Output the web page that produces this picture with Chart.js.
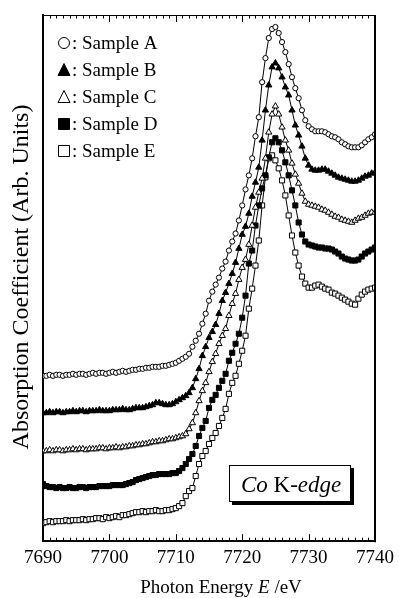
<!DOCTYPE html>
<html>
<head>
<meta charset="utf-8">
<script src="https://cdn.jsdelivr.net/npm/chart.js@4.4.0/dist/chart.umd.min.js"></script>
<style>
html, body { margin: 0; padding: 0; background: #fff; }
</style>
</head>
<body>
<canvas id="mycanvas" width="399" height="598"></canvas>
<script>
// photon energy (eV), shared by all samples
let energy = [
	7690, 7690.5, 7691, 7691.5, 7692, 7692.5, 7693, 7693.5, 7694, 7694.5,
	7695, 7695.5, 7696, 7696.5, 7697, 7697.5, 7698, 7698.5, 7699, 7699.5,
	7700, 7700.5, 7701, 7701.5, 7702, 7702.5, 7703, 7703.5, 7704, 7704.5,
	7705, 7705.5, 7706, 7706.5, 7707, 7707.5, 7708, 7708.5, 7709, 7709.5,
	7710, 7710.5, 7711, 7711.5, 7712, 7712.5, 7713, 7713.5, 7714, 7714.5,
	7715, 7715.5, 7716, 7716.5, 7717, 7717.5, 7718, 7718.5, 7719, 7719.5,
	7720, 7720.5, 7721, 7721.5, 7722, 7722.5, 7723, 7723.5, 7724, 7724.5,
	7725, 7725.5, 7726, 7726.5, 7727, 7727.5, 7728, 7728.5, 7729, 7729.5,
	7730, 7730.5, 7731, 7731.5, 7732, 7732.5, 7733, 7733.5, 7734, 7734.5,
	7735, 7735.5, 7736, 7736.5, 7737, 7737.5, 7738, 7738.5, 7739, 7739.5,
	7740
];

// absorption (arb. units, curves already offset as in the figure)
let sampleA = [
	165, 165, 166, 165, 166, 166, 165, 166, 166, 167,
	166, 167, 167, 166, 167, 168, 167, 168, 168, 167,
	168, 169, 168, 169, 170, 169, 170, 171, 171, 172,
	172, 173, 173, 174, 174, 174, 175, 175, 176, 177,
	178, 180, 182, 184, 187, 194, 200, 207, 217, 227,
	240, 249, 256, 263, 272, 279, 290, 299, 307, 320,
	335, 351, 365, 382, 404, 423, 458, 482, 502, 511,
	513, 507, 498, 488, 476, 463, 452, 442, 430, 420,
	414, 411, 409, 409, 409, 408, 406, 404, 403, 401,
	398, 396, 394, 393, 393, 393, 395, 398, 401, 403,
	406
];
let sampleB = [
	128, 128, 129, 128, 129, 129, 128, 129, 129, 130,
	129, 130, 130, 129, 130, 130, 130, 131, 130, 130,
	130, 131, 131, 131, 132, 131, 131, 132, 133, 133,
	133, 134, 135, 136, 138, 138, 137, 136, 136, 137,
	139, 141, 143, 145, 148, 153, 162, 172, 185, 194,
	203, 209, 216, 227, 240, 248, 257, 267, 278, 292,
	306, 314, 327, 344, 358, 373, 400, 430, 455, 473,
	477, 472, 463, 453, 445, 430, 415, 405, 394, 382,
	375, 371, 370, 370, 371, 371, 369, 367, 365, 363,
	362, 361, 360, 359, 359, 360, 362, 364, 365, 367,
	368
];
let sampleC = [
	90, 90, 91, 90, 91, 91, 90, 91, 91, 92,
	91, 92, 92, 91, 92, 92, 92, 93, 93, 92,
	93, 93, 94, 93, 94, 94, 95, 95, 96, 96,
	97, 97, 98, 99, 99, 100, 100, 101, 102, 102,
	103, 104, 105, 107, 112, 118, 128, 140, 150, 158,
	169, 179, 187, 197, 205, 212, 225, 237, 247, 261,
	273, 281, 296, 315, 333, 348, 362, 382, 408, 426,
	434, 426, 413, 400, 390, 377, 366, 357, 347, 339,
	336, 335, 334, 333, 331, 330, 328, 326, 324, 323,
	321, 320, 319, 318, 320, 322, 323, 325, 327, 328,
	328
];
let sampleD = [
	57, 55, 54, 54, 53, 54, 53, 53, 54, 53,
	53, 54, 54, 53, 54, 54, 54, 55, 55, 55,
	55, 56, 56, 56, 56, 57, 58, 59, 61, 62,
	63, 64, 65, 66, 66, 67, 67, 67, 67, 68,
	68, 70, 73, 77, 82, 87, 95, 105, 113, 120,
	133, 141, 146, 153, 160, 167, 180, 188, 197, 207,
	223, 245, 277, 290, 315, 335, 352, 365, 383, 398,
	402, 398, 390, 378, 365, 350, 335, 318, 306, 299,
	296, 295, 294, 293, 293, 292, 292, 291, 289, 287,
	284, 282, 281, 280, 280, 281, 284, 287, 289, 291,
	293
];
let sampleE = [
	18, 19, 20, 19, 20, 20, 20, 21, 20, 21,
	21, 21, 22, 21, 22, 22, 23, 23, 22, 24,
	23, 24, 25, 24, 26, 26, 27, 28, 29, 29,
	30, 29, 30, 30, 31, 30, 30, 31, 31, 32,
	33, 35, 38, 45, 50, 53, 65, 77, 85, 90,
	97, 103, 108, 115, 123, 132, 147, 158, 165, 177,
	190, 205, 232, 252, 275, 300, 335, 363, 382, 385,
	380, 372, 360, 345, 325, 305, 288, 275, 264, 257,
	253, 253, 255, 256, 254, 252, 251, 248, 247, 245,
	243, 241, 239, 237, 236, 242, 246, 249, 251, 252,
	253
];

let sampleNames = ["Sample A", "Sample B", "Sample C", "Sample D", "Sample E"];
let xTicks = [7690, 7700, 7710, 7720, 7730, 7740];

function pts(arr) {
	return arr.map(function (v, i) { return { x: energy[i], y: v }; });
}

let serif = "'Liberation Serif', 'Times New Roman', serif";

// marker look: style, fill, radius
let marks = [
	{ style: 'circle', fill: '#fff', r: 2.6 },
	{ style: 'triangle', fill: '#000', r: 3.6 },
	{ style: 'triangle', fill: '#fff', r: 3.6 },
	{ style: 'rect', fill: '#000', r: 3.6 },
	{ style: 'rect', fill: '#fff', r: 3.6 }
];
let series = [sampleA, sampleB, sampleC, sampleD, sampleE];

let datasets = series.map(function (s, i) {
	return {
		label: sampleNames[i],
		data: pts(s),
		borderColor: '#000',
		borderWidth: 1,
		backgroundColor: marks[i].fill,
		pointStyle: marks[i].style,
		pointRadius: marks[i].r,
		pointBorderWidth: 1,
		pointBorderColor: '#000',
		pointBackgroundColor: marks[i].fill,
		tension: 0,
		fill: false
	};
});

function drawMark(ctx, m, x, y, size) {
	ctx.save();
	ctx.fillStyle = m.fill;
	ctx.strokeStyle = '#000';
	ctx.lineWidth = 1;
	ctx.beginPath();
	if (m.style == 'circle') {
		ctx.arc(x, y, size / 2, 0, Math.PI * 2);
	} else if (m.style == 'triangle') {
		ctx.moveTo(x, y - size / 2 - 1);
		ctx.lineTo(x + size / 2 + 0.5, y + size / 2);
		ctx.lineTo(x - size / 2 - 0.5, y + size / 2);
		ctx.closePath();
	} else {
		ctx.rect(x - size / 2, y - size / 2, size, size);
	}
	ctx.fill();
	ctx.stroke();
	ctx.restore();
}

let decor = {
	id: 'decor',
	afterDraw: function (chart) {
		let ctx = chart.ctx;
		let a = chart.chartArea;
		let xs = chart.scales.x;
		ctx.save();
		ctx.strokeStyle = '#000';

		// top and right frame
		ctx.lineWidth = 1;
		ctx.beginPath();
		ctx.moveTo(a.left, a.top + 0.5);
		ctx.lineTo(a.right, a.top + 0.5);
		ctx.stroke();
		ctx.lineWidth = 2;
		ctx.beginPath();
		ctx.moveTo(a.right, a.top);
		ctx.lineTo(a.right, a.bottom + 1);
		ctx.stroke();

		// inward ticks, bottom and top
		ctx.lineWidth = 1;
		for (let e = xs.min; e <= xs.max; e++) {
			let px = Math.round(xs.getPixelForValue(e)) + 0.5;
			let len = (e % 10 == 0) ? 7 : 3.5;
			ctx.beginPath();
			ctx.moveTo(px, a.bottom);
			ctx.lineTo(px, a.bottom - len);
			ctx.moveTo(px, a.top);
			ctx.lineTo(px, a.top + len);
			ctx.stroke();
		}

		ctx.fillStyle = '#000';
		// y title
		ctx.save();
		ctx.translate(22, 277);
		ctx.rotate(-Math.PI / 2);
		ctx.font = '24px ' + serif;
		ctx.textAlign = 'center';
		ctx.textBaseline = 'middle';
		ctx.fillText('Absorption Coefficient (Arb. Units)', 0, 0);
		ctx.restore();

		// x title with italic E
		let p1 = 'Photon Energy ', p2 = 'E', p3 = ' /eV';
		ctx.font = '19px ' + serif;
		let w1 = ctx.measureText(p1).width, w3 = ctx.measureText(p3).width;
		ctx.font = 'italic 19px ' + serif;
		let w2 = ctx.measureText(p2).width;
		let x0 = 221 - (w1 + w2 + w3) / 2;
		ctx.textBaseline = 'alphabetic';
		ctx.textAlign = 'left';
		ctx.font = '19px ' + serif;
		ctx.fillText(p1, x0, 593);
		ctx.font = 'italic 19px ' + serif;
		ctx.fillText(p2, x0 + w1, 593);
		ctx.font = '19px ' + serif;
		ctx.fillText(p3, x0 + w1 + w2, 593);

		// legend
		ctx.font = '19px ' + serif;
		ctx.textBaseline = 'middle';
		for (let i = 0; i < sampleNames.length; i++) {
			let ly = 43 + i * 27;
			drawMark(ctx, marks[i], 64, ly, 11);
			ctx.fillStyle = '#000';
			ctx.fillText(': ' + sampleNames[i], 72, ly + 1);
		}

		// Co K-edge box
		ctx.fillStyle = '#000';
		ctx.fillRect(232, 468, 122, 37);
		ctx.fillStyle = '#fff';
		ctx.fillRect(229, 465, 122, 37);
		ctx.lineWidth = 1;
		ctx.strokeRect(229.5, 465.5, 121, 36);
		ctx.fillStyle = '#000';
		ctx.textBaseline = 'alphabetic';
		let tx = 241;
		ctx.font = 'italic 23px ' + serif;
		ctx.fillText('Co', tx, 492);
		tx += ctx.measureText('Co').width;
		ctx.font = '23px ' + serif;
		ctx.fillText(' K-', tx, 492);
		tx += ctx.measureText(' K-').width;
		ctx.font = 'italic 23px ' + serif;
		ctx.fillText('edge', tx, 492);
		ctx.restore();
	}
};

var ctx = document.getElementById("mycanvas").getContext('2d');
var myChart = new Chart(ctx, {
	type: 'line',
	data: { datasets: datasets },
	options: {
		responsive: false,
		animation: false,
		events: [],
		layout: { padding: { left: 43, right: 22, top: 15, bottom: 24 } },
		plugins: {
			legend: { display: false },
			tooltip: { enabled: false }
		},
		scales: {
			x: {
				type: 'linear',
				min: 7690,
				max: 7740,
				afterBuildTicks: function (scale) {
					scale.ticks = xTicks.map(function (v) { return { value: v }; });
				},
				ticks: {
					color: '#000',
					font: { family: serif, size: 19 },
					padding: 5,
					maxRotation: 0,
					callback: function (v) { return String(v); }
				},
				grid: { display: false, drawTicks: false },
				border: { display: true, color: '#000', width: 2 }
			},
			y: {
				min: 0,
				max: 525,
				ticks: { display: false },
				grid: { display: false, drawTicks: false },
				border: { display: true, color: '#000', width: 2 }
			}
		}
	},
	plugins: [decor]
});
</script>
</body>
</html>
